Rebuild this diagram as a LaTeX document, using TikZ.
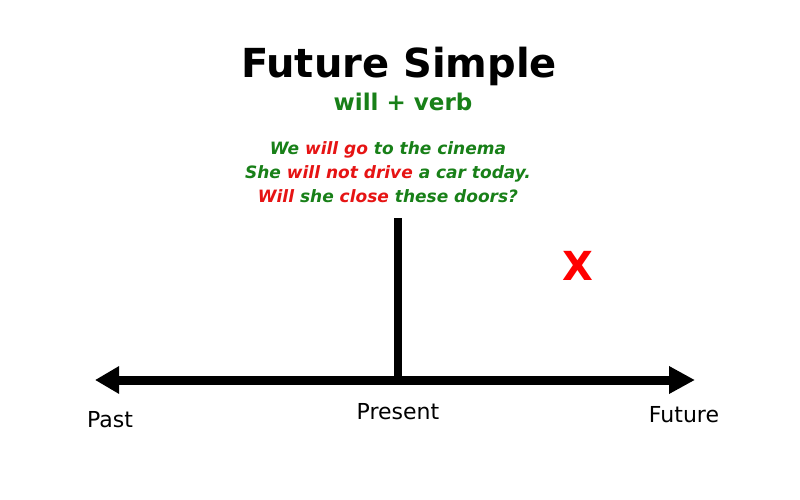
\documentclass[tikz,border=0pt]{standalone}
\usepackage{fontspec}
\setmainfont{DejaVu Sans}
\usetikzlibrary{arrows.meta}
\definecolor{vgreen}{RGB}{24,128,24}
\definecolor{vred}{RGB}{230,20,20}
\definecolor{xred}{RGB}{255,0,0}
\tikzset{
  txt/.style={inner sep=0pt, anchor=base},
  bar/.style={line width=9pt, black},
  sent/.style={txt, font=\fontsize{17}{20}\selectfont\bfseries\itshape, text=vgreen},
  lab/.style={txt, font=\fontsize{22}{26}\selectfont},
}
\begin{document}
\begin{tikzpicture}[x=1pt,y=-1pt]
\useasboundingbox[fill=white] (0,0) rectangle (800,500);
\node[txt, font=\fontsize{40}{44}\selectfont\bfseries] (title) at (399,78) {Future Simple};
\node[txt, font=\fontsize{23}{26}\selectfont\bfseries, text=vgreen] (rule) at (403,111) {will + verb};
\node[sent] (s1) at (388,154) {We \textcolor{vred}{will go} to the cinema};
\node[sent] (s2) at (388,178) {She \textcolor{vred}{will not drive} a car today.};
\node[sent] (s3) at (388,202) {\textcolor{vred}{Will} she \textcolor{vred}{close} these doors?};
\node[txt, font=\fontsize{40}{44}\selectfont\bfseries, text=xred] (x) at (578,280) {X};
\coordinate (L) at (95,380);
\coordinate (R) at (695,380);
\coordinate (top) at (398,218);
\coordinate (mid) at (398,380);
\draw[bar, {Triangle[length=24pt,width=26pt]}-{Triangle[length=26pt,width=26pt]}, shorten <=0pt] (L) -- (R);
\draw[bar, line width=8pt] (top) -- (mid);
\node[lab] (past) at (110,427) {Past};
\node[lab] (present) at (398,419) {Present};
\node[lab] (future) at (684,422) {Future};
\end{tikzpicture}
\end{document}
